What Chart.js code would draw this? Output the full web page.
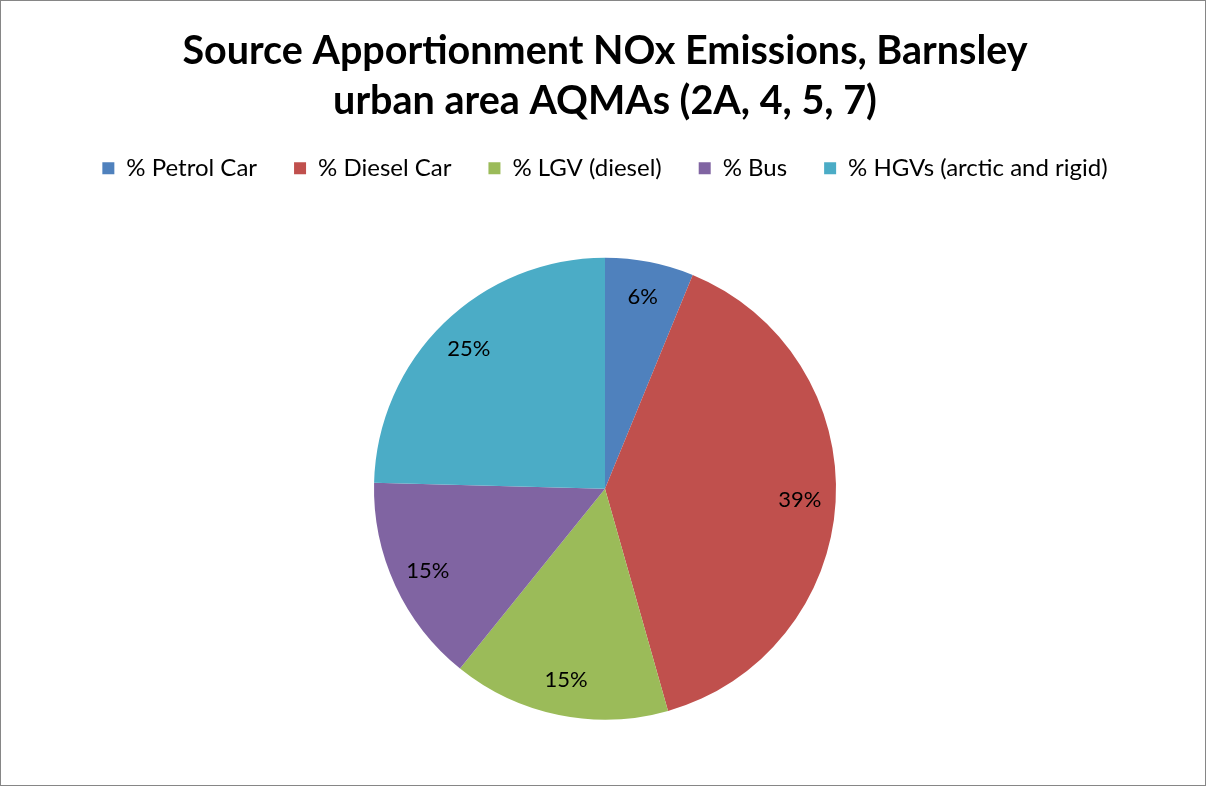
<!DOCTYPE html>
<html>
<head>
<meta charset="utf-8">
<script src="https://cdn.jsdelivr.net/npm/chart.js@4.4.1/dist/chart.umd.min.js"></script>
<style>
  html, body { margin: 0; padding: 0; background: #fff; }
  #wrap { width: 1207px; height: 787px; position: relative; }
  canvas { display: block; }
</style>
</head>
<body>
<div id="wrap"><canvas id="c" width="1207" height="787"></canvas></div>
<script>
const titleLines = ['Source Apportionment NOx Emissions, Barnsley', 'urban area AQMAs (2A, 4, 5, 7)'];
const categories = ['% Petrol Car', '% Diesel Car', '% LGV (diesel)', '% Bus', '% HGVs (arctic and rigid)'];
const shares = [6.2, 39.4, 15.2, 14.6, 24.6];
const colors = ['#4F81BD', '#C0504D', '#9BBB59', '#8064A2', '#4BACC6'];

const FONT = 'Lato, "Open Sans", sans-serif';

const borderPlugin = {
  id: 'frame',
  beforeDraw(chart) {
    const ctx = chart.ctx;
    ctx.save();
    ctx.fillStyle = '#fff';
    ctx.fillRect(0, 0, chart.width, chart.height);
    ctx.strokeStyle = '#868686';
    ctx.lineWidth = 1;
    ctx.strokeRect(0.5, 0.5, chart.width - 2, chart.height - 2);
    ctx.restore();
  }
};

const labelPlugin = {
  id: 'sliceLabels',
  afterDatasetsDraw(chart) {
    const ctx = chart.ctx;
    const meta = chart.getDatasetMeta(0);
    const total = shares.reduce((a, b) => a + b, 0);
    ctx.save();
    ctx.font = '22px ' + FONT;
    ctx.fillStyle = '#000';
    ctx.textAlign = 'center';
    ctx.textBaseline = 'middle';
    meta.data.forEach((arc, i) => {
      const p = arc.getProps(['x', 'y', 'startAngle', 'endAngle', 'outerRadius'], true);
      const mid = (p.startAngle + p.endAngle) / 2;
      const r = p.outerRadius * 0.845;
      const x = p.x + Math.cos(mid) * r;
      const y = p.y + Math.sin(mid) * r;
      ctx.fillText(Math.round(shares[i] / total * 100) + '%', x, y);
    });
    ctx.restore();
  }
};

new Chart(document.getElementById('c'), {
  type: 'pie',
  data: {
    labels: categories,
    datasets: [{
      data: shares,
      backgroundColor: colors,
      borderColor: '#ffffff',
      borderWidth: 0,
      radius: 231
    }]
  },
  options: {
    responsive: false,
    animation: false,
    layout: { padding: { top: 0, bottom: -4, left: 3, right: 0 } },
    plugins: {
      title: {
        display: true,
        text: titleLines,
        color: '#000',
        font: { family: FONT, size: 39.5, weight: 'bold', lineHeight: 1.27 },
        padding: { top: 26, bottom: -7 }
      },
      legend: {
        display: true,
        position: 'top',
        labels: {
          color: '#000',
          font: { family: FONT, size: 24 },
          boxWidth: 12,
          boxHeight: 12,
          padding: 37
        }
      },
      tooltip: { enabled: false }
    }
  },
  plugins: [borderPlugin, labelPlugin]
});
</script>
</body>
</html>
